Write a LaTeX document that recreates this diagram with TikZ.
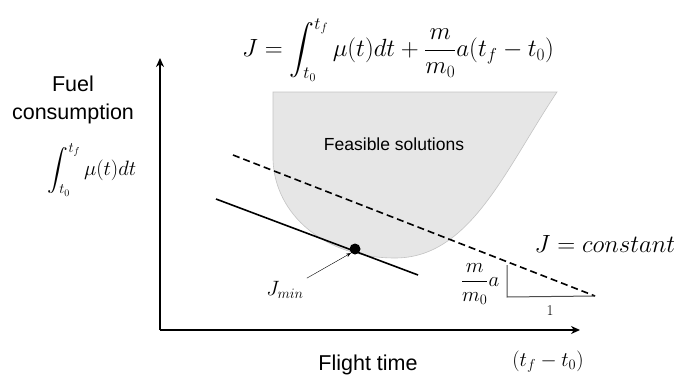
\documentclass[tikz,border=0pt]{standalone}
\usepackage{amsmath}
\usepackage{fontspec}
\setsansfont{Liberation Sans}
\usetikzlibrary{arrows.meta,positioning}
\definecolor{regionFill}{RGB}{230,230,230}
\definecolor{regionEdge}{RGB}{195,195,195}

\begin{document}
\begin{tikzpicture}[x=1pt,y=-1pt,>=Stealth,
 axistext/.style={font=\fontsize{21.5}{25}\selectfont\sffamily,align=center,inner sep=0pt},
 mathtext/.style={font=\fontsize{19.5}{23}\selectfont,inner sep=0pt},
 axis/.style={->,line width=1.6pt,>={Stealth[length=9pt,width=8pt]}},
 level/.style={line width=1.6pt},
 slope/.style={line width=1pt,draw=black!70}]
\useasboundingbox (0,0) rectangle (674,380);
% feasible set
\filldraw[fill=regionFill,draw=regionEdge,line width=.6pt] (273,92) -- (557,92)
  .. controls (505,170) and (470,258) .. (395,258)
  .. controls (325,258) and (275,215) .. (273,160) -- cycle;
\node[font=\fontsize{17.5}{20}\selectfont\sffamily] (feas) at (394,144) {Feasible solutions};
% axes
\coordinate (orig) at (160,330);
\coordinate (ytop) at (160,58);
\coordinate (xend) at (580,330);
\draw[axis] (orig) -- (ytop);
\draw[axis] (orig) -- (xend);
% level lines
\coordinate (dashA) at (233,155);
\coordinate (dashB) at (595,296);
\coordinate (solA) at (216,199);
\coordinate (solB) at (418,275);
\draw[level,dashed,dash pattern=on 7pt off 4pt] (dashA) -- (dashB);
\draw[level] (solA) -- (solB);
\node[circle,fill=black,inner sep=0pt,minimum size=11pt] (opt) at (355,249) {};
\node[mathtext] (jmin) at (285,290) {$J_{min}$};
\draw[->,thin] (jmin.north east) ++(3,-3) coordinate (jtail) (jtail) -- (opt.south west);
% slope triangle
\coordinate (triTop) at (507,265);
\coordinate (triCorner) at (507,297);
\draw[slope] (triTop) -- (triCorner) -- (dashB);
\node[mathtext,font=\fontsize{22}{26}\selectfont] (rise) at (480,284) {$\dfrac{m}{m_0}a$};
\node[font=\fontsize{15}{18}\selectfont] (run) at (550,311) {1};
\node[mathtext,font=\fontsize{24}{28}\selectfont] (jconst) at (605,244) {$J = constant$};
% labels
\node[mathtext,font=\fontsize{24}{28}\selectfont] (cost) at (398,50) {$J=\displaystyle\int_{t_0}^{t_f}\mu(t)dt+\frac{m}{m_0}a(t_f-t_0)$};
\node[axistext] (ylab) at (73,100) {Fuel\\[3pt]consumption};
\node[mathtext,font=\fontsize{20}{24}\selectfont] (yint) at (92,170) {$\displaystyle\int_{t_0}^{t_f}\mu(t)dt$};
\node[axistext] (xlab) at (368,365) {Flight time};
\node[mathtext,font=\fontsize{21}{25}\selectfont] (xint) at (548,362) {$(t_f-t_0)$};
\end{tikzpicture}
\end{document}
